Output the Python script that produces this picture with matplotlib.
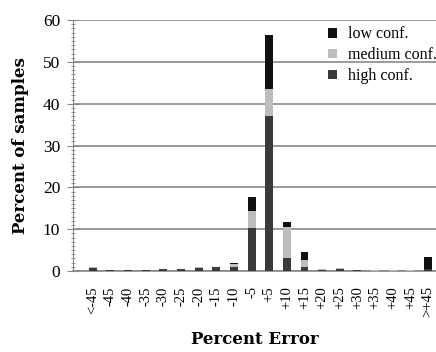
import matplotlib.pyplot as plt
import numpy as np
from matplotlib.ticker import MultipleLocator

# error bins
cats = ["<-45", "-45", "-40", "-35", "-30", "-25", "-20", "-15", "-10", "-5",
        "+5", "+10", "+15", "+20", "+25", "+30", "+35", "+40", "+45", ">+45"]

# percent of samples, per confidence level
high = [0.8, 0.2, 0.2, 0.2, 0.4, 0.4, 0.8, 0.9, 1.0, 10.3,
        37.0, 3.1, 1.0, 0.3, 0.6, 0.2, 0.1, 0.1, 0.1, 0.4]
medium = [0.1, 0.0, 0.0, 0.0, 0.1, 0.1, 0.2, 0.1, 0.6, 4.0,
          6.5, 7.5, 1.6, 0.3, 0.2, 0.1, 0.1, 0.1, 0.1, 0.1]
low = [0.0, 0.0, 0.0, 0.0, 0.0, 0.0, 0.0, 0.0, 0.4, 3.4,
       13.0, 1.2, 2.0, 0.0, 0.0, 0.0, 0.0, 0.0, 0.0, 2.8]

plt.rcParams['font.family'] = ['Liberation Serif', 'DejaVu Serif']

fig = plt.figure(figsize=(4.36, 3.52), dpi=100)
ax = fig.add_axes([0.167, 0.230, 0.833, 0.713])

x = np.arange(len(cats))
w = 0.45
high = np.array(high)
medium = np.array(medium)
low = np.array(low)

ax.bar(x, high, w, color="#3a3a3a", label="high conf.", zorder=3)
ax.bar(x, medium, w, bottom=high, color="#bdbdbd", label="medium conf.", zorder=3)
ax.bar(x, low, w, bottom=high + medium, color="#111111", label="low conf.", zorder=3)

ax.set_ylim(0, 60)
ax.set_xlim(-1.13, 19.45)
ax.yaxis.set_major_locator(MultipleLocator(10))
ax.yaxis.set_minor_locator(MultipleLocator(1))
ax.grid(axis="y", color="#8a8a8a", linewidth=1.2, zorder=0)
ax.set_axisbelow(True)

for s in ["top", "right"]:
    ax.spines[s].set_visible(False)
ax.spines["left"].set_color("#888888")
ax.spines["bottom"].set_color("#888888")
ax.spines["bottom"].set_linewidth(1.2)

ax.tick_params(axis="y", which="major", direction="inout", length=8, color="#888888",
               labelsize=12.5, pad=5)
ax.tick_params(axis="y", which="minor", direction="inout", length=3, color="#888888")
ax.tick_params(axis="x", length=0, labelsize=10.5, pad=11)
ax.set_xticks(x)
ax.set_xticklabels(cats, rotation=90)

lab_font = dict(family="DejaVu Serif", fontsize=12, fontweight="bold")
ax.set_ylabel("Percent of samples", labelpad=10, **lab_font)
ax.set_xlabel("Percent Error", labelpad=10, **lab_font)

h, l = ax.get_legend_handles_labels()
ax.legend(h[::-1], l[::-1], loc="upper right", bbox_to_anchor=(1.02, 1.0), frameon=False,
          fontsize=11.5, handlelength=0.55, handleheight=0.55, handletextpad=0.7,
          labelspacing=0.3, borderaxespad=0.0)

fig.savefig("out.png", dpi=100)
